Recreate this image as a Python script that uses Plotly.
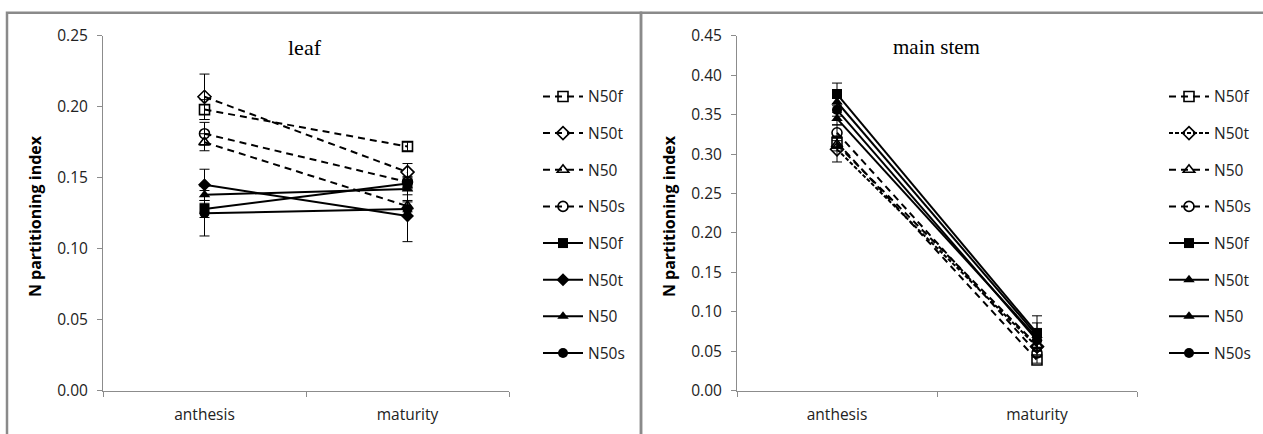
import plotly.graph_objects as go

# ---- data -------------------------------------------------------------
stages = ["anthesis", "maturity"]
series_names = ["N50f", "N50t", "N50", "N50s"]

# leaf: dashed / open-marker series
leaf_open_n50f = [0.198, 0.172]
leaf_open_n50t = [0.207, 0.154]
leaf_open_n50 = [0.175, 0.130]
leaf_open_n50s = [0.181, 0.147]
# leaf: solid / filled-marker series
leaf_fill_n50f = [0.128, 0.146]
leaf_fill_n50t = [0.145, 0.123]
leaf_fill_n50 = [0.138, 0.142]
leaf_fill_n50s = [0.125, 0.128]

# leaf: standard errors
leaf_open_err_n50f = [0.007, 0.003]
leaf_open_err_n50t = [0.016, 0.006]
leaf_open_err_n50 = [0.006, 0.004]
leaf_open_err_n50s = [0.008, 0.004]
leaf_fill_err_n50f = [0.006, 0.004]
leaf_fill_err_n50t = [0.011, 0.018]
leaf_fill_err_n50 = [0.006, 0.004]
leaf_fill_err_n50s = [0.016, 0.005]

# main stem: dashed / open-marker series
stem_open_n50f = [0.315, 0.039]
stem_open_n50t = [0.306, 0.056]
stem_open_n50 = [0.312, 0.058]
stem_open_n50s = [0.327, 0.048]
# main stem: solid / filled-marker series
stem_fill_n50f = [0.376, 0.073]
stem_fill_n50t = [0.366, 0.070]
stem_fill_n50 = [0.345, 0.067]
stem_fill_n50s = [0.356, 0.064]

# main stem: standard errors
stem_open_err_n50f = [0.008, 0.004]
stem_open_err_n50t = [0.016, 0.006]
stem_open_err_n50 = [0.008, 0.005]
stem_open_err_n50s = [0.010, 0.005]
stem_fill_err_n50f = [0.014, 0.022]
stem_fill_err_n50t = [0.010, 0.016]
stem_fill_err_n50 = [0.008, 0.012]
stem_fill_err_n50s = [0.008, 0.010]

leaf_open = [leaf_open_n50f, leaf_open_n50t, leaf_open_n50, leaf_open_n50s]
leaf_fill = [leaf_fill_n50f, leaf_fill_n50t, leaf_fill_n50, leaf_fill_n50s]
leaf_open_err = [leaf_open_err_n50f, leaf_open_err_n50t, leaf_open_err_n50, leaf_open_err_n50s]
leaf_fill_err = [leaf_fill_err_n50f, leaf_fill_err_n50t, leaf_fill_err_n50, leaf_fill_err_n50s]
stem_open = [stem_open_n50f, stem_open_n50t, stem_open_n50, stem_open_n50s]
stem_fill = [stem_fill_n50f, stem_fill_n50t, stem_fill_n50, stem_fill_n50s]
stem_open_err = [stem_open_err_n50f, stem_open_err_n50t, stem_open_err_n50, stem_open_err_n50s]
stem_fill_err = [stem_fill_err_n50f, stem_fill_err_n50t, stem_fill_err_n50, stem_fill_err_n50s]

# ---- styling ----------------------------------------------------------
W, H = 1263, 434
FONT = "Open Sans"
AXIS_GREY = "#8c8c8c"
FRAME_GREY = "#8a8a8a"
TEXT = "#222"

open_symbols = ["square-open", "diamond-open", "triangle-up-open", "circle-open"]
leaf_fill_symbols = ["square", "diamond", "triangle-up", "circle"]
stem_fill_symbols = ["square", "triangle-up", "triangle-up", "circle"]
leaf_dashes = ["7px,5px"] * 4
stem_dashes = ["7px,5px", "4px,2px", "7px,5px", "7px,5px"]


def px_x(p):
    return p / W


def px_y(p):
    return 1 - p / H


fig = go.Figure()


def add_panel(xaxis, yaxis, legend, opens, fills, open_err, fill_err, fill_syms, dashes):
    for i, name in enumerate(series_names):
        fig.add_trace(go.Scatter(
            x=stages, y=opens[i], name=name, xaxis=xaxis, yaxis=yaxis,
            legend=legend, legendgroup=legend + "o" + name,
            mode="lines+markers",
            line=dict(color="black", width=2, dash=dashes[i]),
            marker=dict(symbol=open_symbols[i], size=10, color="black",
                        line=dict(width=1.6, color="black")),
            error_y=dict(type="data", array=open_err[i], color="black",
                         thickness=1, width=5),
        ))
    for i, name in enumerate(series_names):
        fig.add_trace(go.Scatter(
            x=stages, y=fills[i], name=name, xaxis=xaxis, yaxis=yaxis,
            legend=legend, legendgroup=legend + "f" + name,
            mode="lines+markers",
            line=dict(color="black", width=2),
            marker=dict(symbol=fill_syms[i], size=10, color="black"),
            error_y=dict(type="data", array=fill_err[i], color="black",
                         thickness=1, width=5),
        ))


add_panel("x", "y", "legend", leaf_open, leaf_fill, leaf_open_err, leaf_fill_err,
          leaf_fill_symbols, leaf_dashes)
add_panel("x2", "y2", "legend2", stem_open, stem_fill, stem_open_err, stem_fill_err,
          stem_fill_symbols, stem_dashes)

y_dom = [px_y(399), px_y(25)]

xaxis_common = dict(
    type="category", categoryorder="array", categoryarray=stages,
    tickson="boundaries", ticks="outside", ticklen=5, tickcolor=AXIS_GREY,
    showline=True, linecolor=AXIS_GREY, linewidth=1, showgrid=False,
    zeroline=False, tickfont=dict(family=FONT, size=15.5, color=TEXT),
    range=[-0.5, 1.5], fixedrange=True, ticklabelstandoff=10,
)
yaxis_common = dict(
    ticks="outside", ticklen=5, tickcolor=AXIS_GREY, showline=True,
    linecolor=AXIS_GREY, linewidth=1, showgrid=False, zeroline=False,
    tickformat=".2f", dtick=0.05, tick0=0,
    tickfont=dict(family=FONT, size=15.5, color=TEXT), ticklabelstandoff=6,
)

legend_common = dict(
    font=dict(family=FONT, size=15.5, color=TEXT),
    bgcolor="rgba(0,0,0,0)", tracegroupgap=13.5, itemwidth=40,
    xanchor="left", yanchor="top", traceorder="grouped",
)

fig.update_layout(
    width=W, height=H, margin=dict(l=0, r=0, t=0, b=0),
    paper_bgcolor="white", plot_bgcolor="white",
    xaxis=dict(domain=[px_x(103), px_x(509)], anchor="y", **xaxis_common),
    yaxis=dict(domain=y_dom, anchor="x", range=[0, 0.25], **yaxis_common),
    xaxis2=dict(domain=[px_x(737), px_x(1137)], anchor="y2", **xaxis_common),
    yaxis2=dict(domain=y_dom, anchor="x2", range=[0, 0.45], **yaxis_common),
    legend=dict(x=px_x(538), y=px_y(71.5), **legend_common),
    legend2=dict(x=px_x(1164), y=px_y(71.5), **legend_common),
    showlegend=True,
    shapes=[
        # chart frames
        dict(type="rect", xref="paper", yref="paper",
             x0=px_x(7), x1=px_x(641), y0=px_y(470), y1=px_y(0.8),
             line=dict(color=FRAME_GREY, width=2.5), layer="below"),
        dict(type="rect", xref="paper", yref="paper",
             x0=px_x(641), x1=px_x(1275), y0=px_y(470), y1=px_y(0.8),
             line=dict(color=FRAME_GREY, width=2.5), layer="below"),
    ],
    annotations=[
        dict(text="leaf", xref="paper", yref="paper", x=px_x(305), y=px_y(37),
             xanchor="center", yanchor="middle", showarrow=False,
             font=dict(family="Liberation Serif", size=22, color="black")),
        dict(text="main stem", xref="paper", yref="paper", x=px_x(937), y=px_y(37),
             xanchor="center", yanchor="middle", showarrow=False,
             font=dict(family="Liberation Serif", size=21, color="black")),
        dict(text="<b>N partitioning index</b>", xref="paper", yref="paper",
             x=px_x(35), y=px_y(215), textangle=-90, showarrow=False,
             xanchor="center", yanchor="middle",
             font=dict(family=FONT, size=16, color="black")),
        dict(text="<b>N partitioning index</b>", xref="paper", yref="paper",
             x=px_x(669), y=px_y(215), textangle=-90, showarrow=False,
             xanchor="center", yanchor="middle",
             font=dict(family=FONT, size=16, color="black")),
    ],
)

# the page itself carries no body margin so the figure fills the window
fig.write_html("out.html", post_script="document.body.style.margin='0';")
